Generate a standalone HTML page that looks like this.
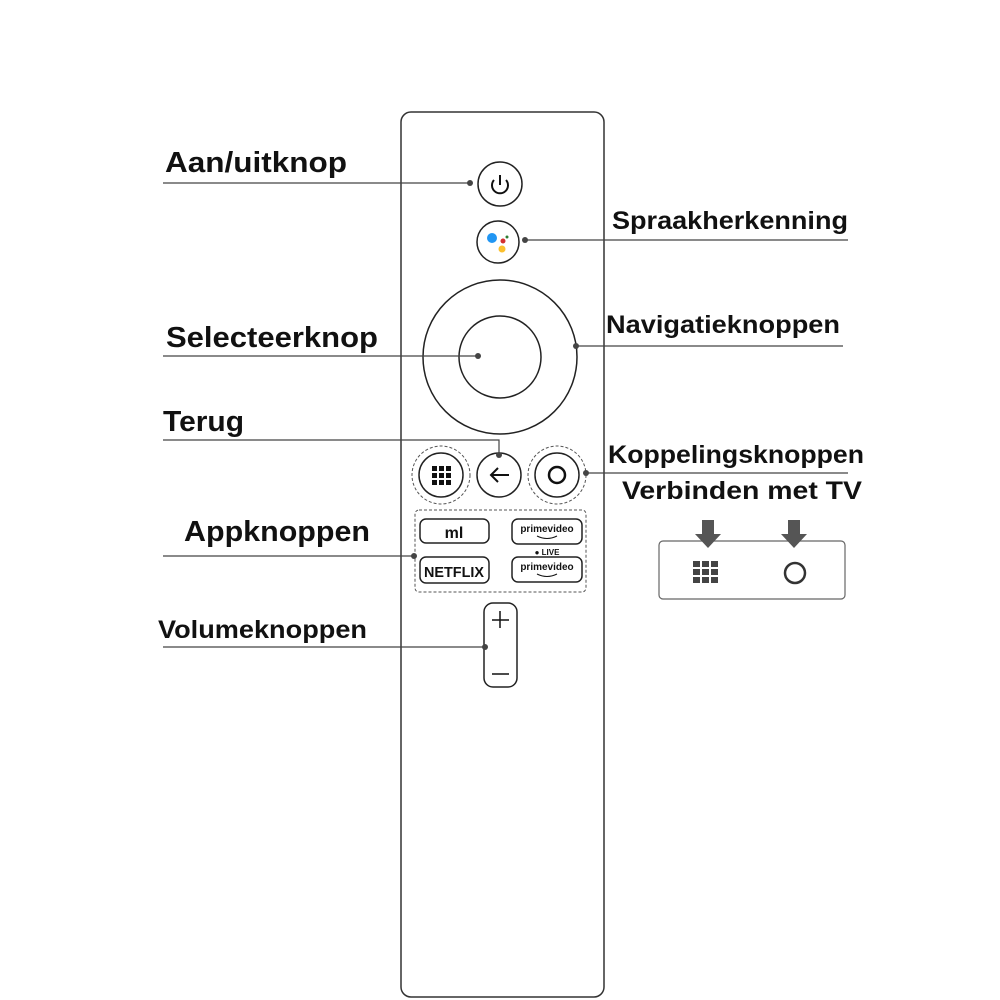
<!DOCTYPE html>
<html><head><meta charset="utf-8"><style>
html,body{margin:0;padding:0;background:#fff}
svg{display:block}
text{font-family:"Liberation Sans",sans-serif;font-weight:bold;fill:#111}
</style></head><body>
<svg width="1000" height="1000" viewBox="0 0 1000 1000" xmlns="http://www.w3.org/2000/svg">
<rect x="401" y="112" width="203" height="885" rx="10" fill="#fff" stroke="#333" stroke-width="1.5"/>
<circle cx="500" cy="184" r="22" fill="none" stroke="#222" stroke-width="1.5"/>
<path d="M494 180 A8 8 0 1 0 506 180" fill="none" stroke="#111" stroke-width="2"/>
<line x1="500" y1="175" x2="500" y2="185" stroke="#111" stroke-width="2"/>
<circle cx="498" cy="242" r="21" fill="none" stroke="#222" stroke-width="1.5"/>
<circle cx="492" cy="238" r="5" fill="#2196f3"/>
<circle cx="503" cy="241" r="2.5" fill="#d32f2f"/>
<circle cx="507" cy="237" r="1.5" fill="#2e7d32"/>
<circle cx="502" cy="249" r="3.5" fill="#fbc02d"/>
<circle cx="500" cy="357" r="77" fill="none" stroke="#222" stroke-width="1.5"/>
<circle cx="500" cy="357" r="41" fill="none" stroke="#222" stroke-width="1.5"/>
<circle cx="441" cy="475" r="29" fill="none" stroke="#555" stroke-dasharray="3,2"/>
<circle cx="441" cy="475" r="22" fill="none" stroke="#222" stroke-width="1.5"/>
<g fill="#111">
<rect x="432" y="466" width="5" height="5"/><rect x="439" y="466" width="5" height="5"/><rect x="446" y="466" width="5" height="5"/>
<rect x="432" y="473" width="5" height="5"/><rect x="439" y="473" width="5" height="5"/><rect x="446" y="473" width="5" height="5"/>
<rect x="432" y="480" width="5" height="5"/><rect x="439" y="480" width="5" height="5"/><rect x="446" y="480" width="5" height="5"/>
</g>
<circle cx="499" cy="475" r="22" fill="none" stroke="#222" stroke-width="1.5"/>
<path d="M509 475 H491 M498 468 L491 475 L498 482" fill="none" stroke="#111" stroke-width="2"/>
<circle cx="557" cy="475" r="29" fill="none" stroke="#555" stroke-dasharray="3,2"/>
<circle cx="557" cy="475" r="22" fill="none" stroke="#222" stroke-width="1.5"/>
<circle cx="557" cy="475" r="8" fill="none" stroke="#111" stroke-width="2.5"/>
<rect x="415" y="510" width="171" height="82" rx="4" fill="none" stroke="#555" stroke-dasharray="3,2"/>
<rect x="420" y="519" width="69" height="24" rx="6" fill="none" stroke="#222" stroke-width="1.5"/>
<text x="454" y="538" font-size="16" text-anchor="middle">ml</text>
<rect x="512" y="519" width="70" height="25" rx="6" fill="none" stroke="#222" stroke-width="1.5"/>
<text x="547" y="532" font-size="10" text-anchor="middle">primevideo</text>
<path d="M537 536 Q547 541 557 536" fill="none" stroke="#111" stroke-width="1"/>
<text x="547" y="555" font-size="8" text-anchor="middle">● LIVE</text>
<rect x="420" y="557" width="69" height="26" rx="6" fill="none" stroke="#222" stroke-width="1.5"/>
<text x="454" y="577" font-size="15" text-anchor="middle" textLength="60" lengthAdjust="spacingAndGlyphs">NETFLIX</text>
<rect x="512" y="557" width="70" height="25" rx="6" fill="none" stroke="#222" stroke-width="1.5"/>
<text x="547" y="570" font-size="10" text-anchor="middle">primevideo</text>
<path d="M537 574 Q547 579 557 574" fill="none" stroke="#111" stroke-width="1"/>
<rect x="484" y="603" width="33" height="84" rx="9" fill="none" stroke="#222" stroke-width="1.5"/>
<path d="M500 611 V628 M492 620 H509 M492 674 H509" stroke="#111" stroke-width="1.5"/>
<g stroke="#444" stroke-width="1.2" fill="none">
<line x1="163" y1="183" x2="470" y2="183"/>
<line x1="525" y1="240" x2="848" y2="240"/>
<line x1="576" y1="346" x2="843" y2="346"/>
<line x1="163" y1="356" x2="478" y2="356"/>
<path d="M163 440 H499 V457"/>
<line x1="586" y1="473" x2="848" y2="473"/>
<line x1="163" y1="556" x2="414" y2="556"/>
<line x1="163" y1="647" x2="485" y2="647"/>
</g>
<g fill="#444">
<circle cx="470" cy="183" r="3"/><circle cx="525" cy="240" r="3"/><circle cx="576" cy="346" r="3"/>
<circle cx="478" cy="356" r="3"/><circle cx="499" cy="455" r="3"/><circle cx="586" cy="473" r="3"/>
<circle cx="414" cy="556" r="3"/><circle cx="485" cy="647" r="3"/>
</g>
<g lengthAdjust="spacingAndGlyphs">
<text x="165" y="172" font-size="29" textLength="182" lengthAdjust="spacingAndGlyphs">Aan/uitknop</text>
<text x="612" y="229" font-size="25" textLength="236" lengthAdjust="spacingAndGlyphs">Spraakherkenning</text>
<text x="606" y="333" font-size="25" textLength="234" lengthAdjust="spacingAndGlyphs">Navigatieknoppen</text>
<text x="166" y="347" font-size="29" textLength="212" lengthAdjust="spacingAndGlyphs">Selecteerknop</text>
<text x="163" y="431" font-size="29" textLength="81" lengthAdjust="spacingAndGlyphs">Terug</text>
<text x="608" y="463" font-size="25" textLength="256" lengthAdjust="spacingAndGlyphs">Koppelingsknoppen</text>
<text x="622" y="499" font-size="25" textLength="240" lengthAdjust="spacingAndGlyphs">Verbinden met TV</text>
<text x="184" y="541" font-size="29" textLength="186" lengthAdjust="spacingAndGlyphs">Appknoppen</text>
<text x="158" y="638" font-size="25" textLength="209" lengthAdjust="spacingAndGlyphs">Volumeknoppen</text>
</g>
<rect x="659" y="541" width="186" height="58" rx="4" fill="#fff" stroke="#666" stroke-width="1.2"/>
<path d="M702 520 H714 V534 H721 L708 548 L695 534 H702 Z" fill="#555"/>
<path d="M788 520 H800 V534 H807 L794 548 L781 534 H788 Z" fill="#555"/>
<g fill="#444">
<rect x="693" y="561" width="7" height="6"/><rect x="702" y="561" width="7" height="6"/><rect x="711" y="561" width="7" height="6"/>
<rect x="693" y="569" width="7" height="6"/><rect x="702" y="569" width="7" height="6"/><rect x="711" y="569" width="7" height="6"/>
<rect x="693" y="577" width="7" height="6"/><rect x="702" y="577" width="7" height="6"/><rect x="711" y="577" width="7" height="6"/>
</g>
<circle cx="795" cy="573" r="10" fill="none" stroke="#333" stroke-width="2.5"/>
</svg>
</body></html>
